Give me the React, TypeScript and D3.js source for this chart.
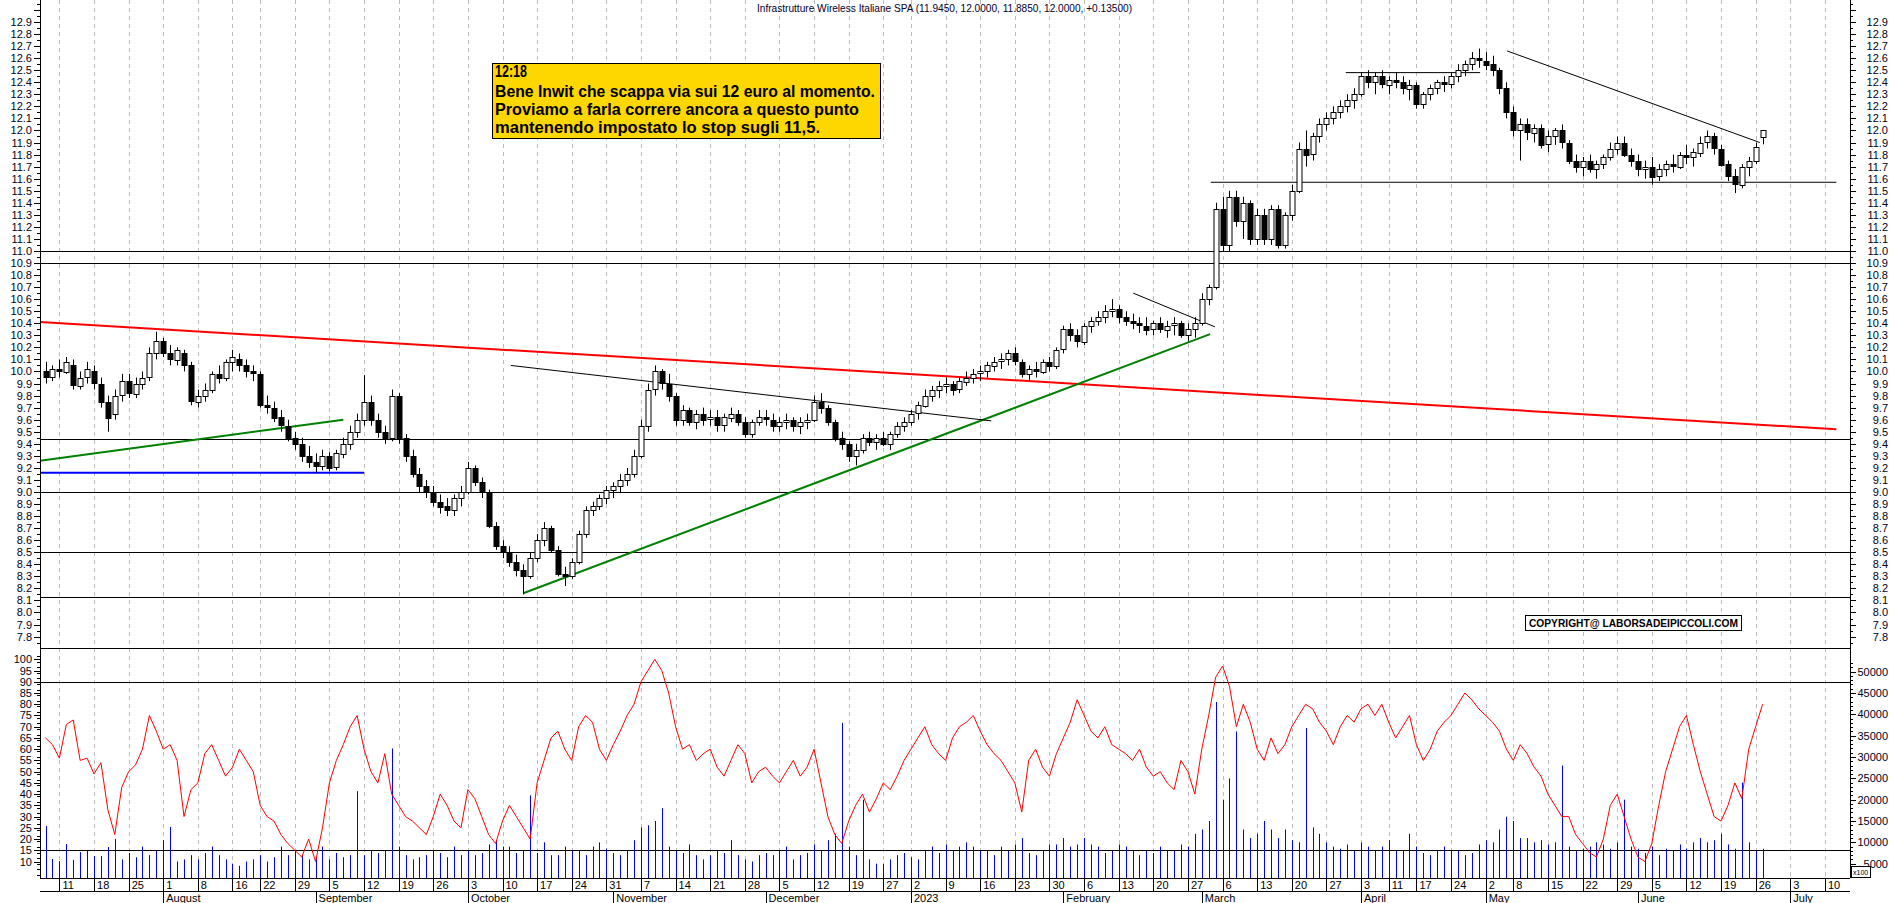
import React from "react";
import * as d3 from "d3";

type Candle = [number, number, number, number]; // open, high, low, close

// trading calendar
const firstDay = new Date(2022, 6, 7);
const axisEnd = new Date(2023, 6, 15);
const holidays = ["2022-08-15", "2022-12-26", "2023-04-07", "2023-04-10", "2023-05-01"];
const monthNames = ["2023", "February", "March", "April", "May", "June", "July", "August", "September", "October", "November", "December"];

// candles, one array per month
const jul22: Candle[] = [
  [10.0, 10.08, 9.9, 9.95], [9.95, 10.05, 9.92, 10.02], [10.02, 10.1, 9.95, 10.0], [10.0, 10.12, 9.98, 10.08],
  [10.05, 10.1, 9.85, 9.88], [9.88, 10.0, 9.85, 9.95], [9.95, 10.08, 9.9, 10.02], [10.0, 10.05, 9.85, 9.9],
  [9.9, 9.95, 9.7, 9.75], [9.75, 9.8, 9.5, 9.62], [9.65, 9.85, 9.6, 9.8], [9.8, 9.98, 9.75, 9.92],
  [9.92, 9.98, 9.78, 9.82], [9.82, 9.95, 9.78, 9.9], [9.9, 10.0, 9.85, 9.95], [9.95, 10.2, 9.92, 10.15],
  [10.15, 10.33, 10.1, 10.25],
];
const aug22: Candle[] = [
  [10.25, 10.28, 10.12, 10.15], [10.15, 10.22, 10.05, 10.1], [10.1, 10.2, 10.05, 10.18], [10.15, 10.18, 10.0, 10.05],
  [10.05, 10.08, 9.72, 9.75], [9.75, 9.85, 9.7, 9.8], [9.8, 9.9, 9.75, 9.85], [9.85, 10.0, 9.82, 9.98],
  [9.98, 10.05, 9.9, 9.95], [9.95, 10.1, 9.92, 10.08], [10.08, 10.18, 10.0, 10.12], [10.1, 10.15, 10.0, 10.05],
  [10.05, 10.1, 9.95, 10.0], [10.0, 10.05, 9.92, 9.98], [9.98, 10.0, 9.7, 9.72], [9.72, 9.8, 9.65, 9.7],
  [9.7, 9.75, 9.58, 9.62], [9.62, 9.68, 9.5, 9.55], [9.55, 9.6, 9.42, 9.45], [9.45, 9.5, 9.35, 9.4],
  [9.4, 9.45, 9.25, 9.3], [9.3, 9.38, 9.2, 9.25],
];
const sep22: Candle[] = [
  [9.25, 9.32, 9.16, 9.22], [9.22, 9.35, 9.18, 9.3], [9.3, 9.33, 9.17, 9.2], [9.2, 9.35, 9.18, 9.32],
  [9.32, 9.45, 9.28, 9.4], [9.4, 9.55, 9.35, 9.5], [9.5, 9.65, 9.45, 9.6], [9.6, 9.97, 9.55, 9.75],
  [9.75, 9.8, 9.55, 9.6], [9.6, 9.65, 9.45, 9.5], [9.5, 9.55, 9.4, 9.45], [9.45, 9.85, 9.42, 9.8],
  [9.8, 9.82, 9.4, 9.45], [9.45, 9.48, 9.25, 9.3], [9.3, 9.35, 9.12, 9.15], [9.15, 9.2, 9.0, 9.05],
  [9.05, 9.1, 8.95, 9.0], [9.0, 9.05, 8.88, 8.92], [8.92, 8.98, 8.82, 8.88], [8.88, 8.95, 8.8, 8.85],
  [8.85, 8.98, 8.8, 8.95], [8.95, 9.05, 8.88, 9.0],
];
const oct22: Candle[] = [
  [9.0, 9.25, 8.98, 9.2], [9.2, 9.22, 9.05, 9.08], [9.08, 9.12, 8.95, 9.0], [9.0, 9.02, 8.7, 8.72],
  [8.72, 8.75, 8.52, 8.55], [8.55, 8.6, 8.45, 8.5], [8.5, 8.55, 8.38, 8.42], [8.42, 8.48, 8.3, 8.35],
  [8.35, 8.4, 8.15, 8.3], [8.3, 8.5, 8.28, 8.45], [8.45, 8.65, 8.42, 8.6], [8.6, 8.75, 8.55, 8.7],
  [8.7, 8.72, 8.5, 8.52], [8.52, 8.55, 8.3, 8.32], [8.32, 8.38, 8.22, 8.3], [8.3, 8.45, 8.28, 8.42],
  [8.42, 8.68, 8.4, 8.65], [8.65, 8.88, 8.62, 8.85], [8.85, 8.92, 8.8, 8.88], [8.88, 8.98, 8.85, 8.95],
  [8.95, 9.05, 8.9, 9.02],
];
const nov22: Candle[] = [
  [9.02, 9.08, 8.95, 9.05], [9.05, 9.15, 9.0, 9.1], [9.1, 9.2, 9.05, 9.15], [9.15, 9.35, 9.12, 9.3],
  [9.3, 9.6, 9.28, 9.55], [9.55, 9.9, 9.5, 9.85], [9.85, 10.05, 9.8, 10.0], [10.0, 10.02, 9.85, 9.9],
  [9.9, 9.98, 9.75, 9.8], [9.8, 9.82, 9.55, 9.6], [9.6, 9.72, 9.55, 9.68], [9.68, 9.7, 9.55, 9.58],
  [9.58, 9.68, 9.52, 9.65], [9.65, 9.7, 9.55, 9.6], [9.6, 9.68, 9.55, 9.62], [9.62, 9.68, 9.5, 9.55],
  [9.55, 9.65, 9.5, 9.62], [9.62, 9.7, 9.58, 9.65], [9.65, 9.68, 9.55, 9.58], [9.58, 9.62, 9.45, 9.48],
  [9.48, 9.6, 9.45, 9.58], [9.58, 9.68, 9.55, 9.62],
];
const dec22: Candle[] = [
  [9.62, 9.68, 9.55, 9.6], [9.6, 9.65, 9.5, 9.55], [9.55, 9.62, 9.5, 9.58], [9.58, 9.65, 9.52, 9.6],
  [9.6, 9.62, 9.5, 9.55], [9.55, 9.62, 9.48, 9.58], [9.58, 9.65, 9.52, 9.6], [9.6, 9.8, 9.58, 9.75],
  [9.75, 9.82, 9.65, 9.7], [9.7, 9.72, 9.55, 9.58], [9.58, 9.6, 9.42, 9.45], [9.45, 9.5, 9.35, 9.4],
  [9.4, 9.42, 9.25, 9.3], [9.3, 9.4, 9.22, 9.35], [9.35, 9.48, 9.32, 9.45], [9.45, 9.5, 9.38, 9.42],
  [9.42, 9.48, 9.35, 9.45], [9.45, 9.5, 9.38, 9.4], [9.4, 9.5, 9.35, 9.48], [9.48, 9.58, 9.45, 9.55],
  [9.55, 9.62, 9.5, 9.58],
];
const jan23: Candle[] = [
  [9.58, 9.68, 9.55, 9.65], [9.65, 9.75, 9.6, 9.72], [9.72, 9.85, 9.7, 9.8], [9.8, 9.88, 9.75, 9.85],
  [9.85, 9.92, 9.78, 9.88], [9.88, 9.95, 9.82, 9.9], [9.9, 9.92, 9.8, 9.85], [9.85, 9.95, 9.82, 9.92],
  [9.92, 10.0, 9.88, 9.95], [9.95, 10.02, 9.9, 9.98], [9.98, 10.05, 9.92, 10.0], [10.0, 10.08, 9.95, 10.05],
  [10.05, 10.12, 10.0, 10.08], [10.08, 10.15, 10.02, 10.1], [10.1, 10.18, 10.05, 10.15], [10.15, 10.2, 10.05, 10.08],
  [10.08, 10.1, 9.95, 9.98], [9.98, 10.05, 9.92, 10.02], [10.02, 10.08, 9.95, 10.0], [10.0, 10.1, 9.98, 10.08],
  [10.08, 10.12, 10.0, 10.05], [10.05, 10.2, 10.02, 10.18],
];
const feb23: Candle[] = [
  [10.18, 10.38, 10.15, 10.35], [10.35, 10.4, 10.25, 10.3], [10.3, 10.35, 10.2, 10.25], [10.25, 10.4, 10.22, 10.38],
  [10.38, 10.45, 10.32, 10.42], [10.42, 10.5, 10.38, 10.45], [10.45, 10.55, 10.4, 10.5], [10.5, 10.6, 10.45, 10.52],
  [10.52, 10.55, 10.4, 10.45], [10.45, 10.5, 10.38, 10.42], [10.42, 10.48, 10.35, 10.4], [10.4, 10.45, 10.32, 10.38],
  [10.38, 10.45, 10.3, 10.35], [10.35, 10.42, 10.3, 10.4], [10.4, 10.45, 10.32, 10.35], [10.35, 10.42, 10.28, 10.38],
  [10.38, 10.45, 10.3, 10.4], [10.4, 10.42, 10.28, 10.3], [10.3, 10.4, 10.25, 10.35], [10.35, 10.45, 10.28, 10.4],
];
const mar23: Candle[] = [
  [10.4, 10.65, 10.38, 10.6], [10.6, 10.72, 10.55, 10.7], [10.7, 11.4, 10.68, 11.35], [11.35, 11.45, 11.0, 11.05],
  [11.05, 11.5, 11.0, 11.45], [11.45, 11.5, 11.2, 11.25], [11.25, 11.45, 11.1, 11.4], [11.4, 11.42, 11.05, 11.1],
  [11.1, 11.35, 11.05, 11.3], [11.3, 11.35, 11.05, 11.1], [11.1, 11.38, 11.05, 11.35], [11.35, 11.38, 11.02, 11.05],
  [11.05, 11.32, 11.02, 11.3], [11.3, 11.55, 11.25, 11.5], [11.5, 11.9, 11.48, 11.85], [11.85, 12.0, 11.7, 11.8],
  [11.8, 11.98, 11.75, 11.95], [11.95, 12.1, 11.9, 12.05], [12.05, 12.15, 12.0, 12.1], [12.1, 12.2, 12.05, 12.15],
  [12.15, 12.25, 12.1, 12.2], [12.2, 12.3, 12.15, 12.25], [12.25, 12.35, 12.18, 12.3],
];
const apr23: Candle[] = [
  [12.3, 12.48, 12.28, 12.45], [12.45, 12.5, 12.35, 12.4], [12.4, 12.48, 12.3, 12.45], [12.45, 12.5, 12.35, 12.38],
  [12.38, 12.45, 12.3, 12.42], [12.42, 12.48, 12.35, 12.4], [12.4, 12.45, 12.3, 12.35], [12.35, 12.42, 12.25, 12.38],
  [12.38, 12.4, 12.18, 12.22], [12.22, 12.32, 12.18, 12.3], [12.3, 12.38, 12.25, 12.35], [12.35, 12.42, 12.3, 12.4],
  [12.4, 12.45, 12.32, 12.38], [12.38, 12.48, 12.35, 12.45], [12.45, 12.55, 12.4, 12.5], [12.5, 12.58, 12.45, 12.55],
  [12.55, 12.65, 12.5, 12.6], [12.6, 12.68, 12.52, 12.58],
];
const may23: Candle[] = [
  [12.58, 12.65, 12.5, 12.55], [12.55, 12.62, 12.45, 12.5], [12.5, 12.52, 12.3, 12.35], [12.35, 12.4, 12.1, 12.15],
  [12.15, 12.2, 11.95, 12.0], [12.0, 12.1, 11.75, 12.05], [12.05, 12.1, 11.92, 11.98], [11.98, 12.05, 11.9, 12.02],
  [12.02, 12.05, 11.85, 11.88], [11.88, 12.0, 11.82, 11.95], [11.95, 12.02, 11.88, 12.0], [12.0, 12.05, 11.85, 11.9],
  [11.9, 11.92, 11.72, 11.75], [11.75, 11.8, 11.65, 11.7], [11.7, 11.78, 11.62, 11.75], [11.75, 11.8, 11.65, 11.68],
  [11.68, 11.75, 11.6, 11.72], [11.72, 11.8, 11.68, 11.78], [11.78, 11.9, 11.75, 11.85], [11.85, 11.95, 11.8, 11.9],
  [11.9, 11.95, 11.78, 11.8], [11.8, 11.85, 11.7, 11.75],
];
const jun23: Candle[] = [
  [11.75, 11.8, 11.62, 11.68], [11.68, 11.75, 11.6, 11.7], [11.7, 11.78, 11.55, 11.62], [11.62, 11.72, 11.58, 11.68],
  [11.68, 11.75, 11.62, 11.72], [11.72, 11.8, 11.65, 11.7], [11.7, 11.82, 11.68, 11.8], [11.8, 11.88, 11.72, 11.78],
  [11.78, 11.85, 11.7, 11.82], [11.82, 11.95, 11.78, 11.9], [11.9, 12.0, 11.85, 11.95], [11.95, 11.98, 11.8, 11.85],
  [11.85, 11.88, 11.7, 11.72], [11.72, 11.75, 11.58, 11.62], [11.62, 11.68, 11.48, 11.55], [11.55, 11.72, 11.52, 11.7],
  [11.7, 11.78, 11.62, 11.75], [11.75, 11.9, 11.72, 11.865], [11.945, 12.0, 11.885, 12.0],
];

// volume (axis units, x100)
const volJul22 = [13800, 6100, 5600, 9600, 5900, 7700, 8000, 6800, 6800, 8900, 10800, 6000, 7500, 6500, 9000, 7000, 8000];
const volAug22 = [10500, 13600, 5500, 6000, 7000, 6000, 7500, 9000, 7000, 6000, 5000, 4500, 5500, 6000, 7000, 5500, 6500, 9000, 7000, 8000, 7000, 6000];
const volSep22 = [6500, 9000, 6000, 7500, 6500, 7000, 22000, 7000, 8000, 7500, 8000, 32000, 9000, 7000, 6000, 6500, 7000, 8000, 7500, 6500, 9000, 7000];
const volOct22 = [8000, 7000, 7500, 9500, 10500, 9000, 9000, 7500, 8000, 21000, 7500, 10000, 7000, 7000, 9000, 8000, 8000, 7000, 9000, 10000, 8500];
const volNov22 = [7500, 7000, 8000, 10500, 13500, 14000, 15000, 18000, 9000, 8000, 7500, 9500, 7000, 6000, 7000, 8000, 7500, 10500, 7000, 6000, 5500, 7000];
const volDec22 = [7500, 7000, 8000, 9000, 6000, 7000, 7500, 9500, 8000, 10500, 12000, 38000, 9000, 7000, 20000, 6000, 5000, 5000, 6000, 7000, 7500];
const volJan23 = [6500, 6000, 8000, 9000, 7500, 9500, 8000, 9000, 10000, 9000, 8000, 8000, 7000, 9000, 8000, 9500, 11000, 7500, 7000, 8000, 9500, 9500];
const volFeb23 = [11000, 9000, 9500, 11000, 9500, 9000, 7500, 8000, 9500, 9000, 8000, 7000, 8000, 7500, 9000, 8000, 8000, 9500, 9000, 12000];
const volMar23 = [13000, 15000, 42900, 20000, 25000, 36000, 13000, 11000, 12000, 15000, 13000, 11000, 13000, 10500, 10000, 36800, 13500, 12000, 10000, 9000, 8500, 9500, 8000];
const volApr23 = [10000, 9000, 8000, 9000, 10500, 8000, 8000, 12000, 9000, 7500, 7000, 8000, 9000, 8000, 8000, 7000, 7500, 9500];
const volMay23 = [10500, 10000, 13000, 16000, 15000, 11000, 11000, 10000, 10500, 9500, 10000, 28000, 9000, 8000, 8500, 9000, 10000, 9500, 8500, 10000, 20000, 9000];
const volJun23 = [8500, 7500, 9000, 7000, 8500, 8000, 9500, 8500, 10000, 11000, 10000, 10500, 12000, 9500, 8500, 24000, 10000, 8000, 8500];

// oscillator (0-100)
const oscJul22 = [65, 62, 56, 71, 73, 55, 56, 49, 54, 33, 22, 43, 50, 53, 60, 75, 68];
const oscAug22 = [60, 62, 55, 30, 42, 45, 58, 62, 55, 48, 52, 60, 55, 50, 35, 30, 28, 22, 18, 15, 12, 20];
const oscSep22 = [10, 25, 45, 55, 62, 70, 75, 60, 50, 45, 58, 40, 35, 30, 28, 25, 22, 30, 40, 35, 28, 25];
const oscOct22 = [42, 38, 30, 22, 18, 28, 35, 30, 25, 20, 45, 55, 65, 68, 60, 55, 70, 75, 72, 60, 55];
const oscNov22 = [62, 68, 75, 80, 90, 95, 100, 95, 85, 70, 60, 62, 55, 58, 60, 52, 48, 55, 62, 58, 45, 50];
const oscDec22 = [52, 48, 45, 50, 55, 48, 52, 60, 45, 30, 22, 18, 28, 35, 40, 32, 38, 45, 42, 48, 55];
const oscJan23 = [60, 65, 70, 62, 58, 55, 65, 70, 72, 75, 68, 62, 58, 55, 50, 45, 32, 55, 60, 52, 48, 58];
const oscFeb23 = [65, 72, 82, 75, 68, 65, 70, 62, 60, 58, 55, 60, 52, 48, 50, 45, 42, 55, 50, 40];
const oscMar23 = [60, 75, 92, 97, 88, 70, 80, 72, 60, 55, 65, 58, 62, 70, 75, 80, 78, 72, 68, 62, 70, 75, 72];
const oscApr23 = [78, 80, 75, 80, 72, 65, 70, 75, 62, 55, 60, 68, 72, 75, 80, 85, 82, 78];
const oscMay23 = [75, 72, 68, 60, 55, 62, 58, 52, 48, 40, 35, 30, 30, 22, 18, 14, 12, 20, 35, 40, 30, 20];
const oscJun23 = [12, 10, 18, 35, 50, 60, 70, 75, 62, 50, 40, 30, 28, 35, 45, 38, 60, 70, 80];

// horizontal levels and trend lines (day index, price)
const fullLevels = [11.0, 10.9, 9.44, 9.0, 8.5, 8.13];
const trendLines = [
  { from: [-0.8, 10.41], to: [258.65, 9.52], color: "#ff0000", width: 2 },
  { from: [-0.8, 9.26], to: [43.0, 9.6], color: "#008000", width: 2 },
  { from: [-0.8, 9.16], to: [46.0, 9.16], color: "#0000ff", width: 2 },
  { from: [69.0, 8.16], to: [168.2, 10.31], color: "#008000", width: 2 },
  { from: [67.2, 10.05], to: [136.6, 9.59], color: "#000000", width: 1 },
  { from: [157.1, 10.65], to: [168.9, 10.37], color: "#000000", width: 1 },
  { from: [211.1, 12.66], to: [247.6, 11.9], color: "#000000", width: 1 },
  { from: [187.8, 12.48], to: [207.2, 12.48], color: "#000000", width: 1 },
  { from: [168.3, 11.57], to: [258.65, 11.57], color: "#000000", width: 1 },
];

const titleText = "Infrastrutture Wireless Italiane SPA (11.9450, 12.0000, 11.8850, 12.0000, +0.13500)";
const noteLines = [
  "12:18",
  "Bene Inwit che scappa via sui 12 euro al momento.",
  "Proviamo a farla correre ancora a questo punto",
  "mantenendo impostato lo stop sugli 11,5.",
];

const candles = [...jul22, ...aug22, ...sep22, ...oct22, ...nov22, ...dec22, ...jan23, ...feb23, ...mar23, ...apr23, ...may23, ...jun23];
const volumes = [...volJul22, ...volAug22, ...volSep22, ...volOct22, ...volNov22, ...volDec22, ...volJan23, ...volFeb23, ...volMar23, ...volApr23, ...volMay23, ...volJun23];
const osc = [...oscJul22, ...oscAug22, ...oscSep22, ...oscOct22, ...oscNov22, ...oscDec22, ...oscJan23, ...oscFeb23, ...oscMar23, ...oscApr23, ...oscMay23, ...oscJun23];

const W = 1890;
const H = 903;
const LEFT = 40;
const RIGHT = 1850;
const PRICE_BOTTOM = 648.5;
const LOW_BOTTOM = 878;
const FONT = "'Liberation Sans', Arial, sans-serif";

export default function App() {
  const fmt = d3.timeFormat("%Y-%m-%d");
  const days = d3.timeDay
    .range(firstDay, axisEnd)
    .filter((d) => d.getDay() !== 0 && d.getDay() !== 6 && !holidays.includes(fmt(d)));

  const x = d3.scaleLinear().domain([2, 257]).range([59.4, 1824.9]);
  const yP = d3.scaleLinear().domain([12.9, 7.8]).range([22, 636.6]);
  const yO = d3.scaleLinear().domain([100, 15]).range([659.3, 850.3]);
  const yV = d3.scaleLinear().domain([0, 50000]).range([885, 671.7]);

  const weekTicks: number[] = [];
  const monthTicks: number[] = [];
  days.forEach((d, i) => {
    if (i === 0) return;
    const prev = days[i - 1];
    if (+d3.timeMonday.floor(d) !== +d3.timeMonday.floor(prev)) weekTicks.push(i);
    if (d.getMonth() !== prev.getMonth()) monthTicks.push(i);
  });

  const oscLine = d3
    .line<number>()
    .x((_, i) => x(i))
    .y((v) => yO(v))(osc) ?? "";

  const px = (v: number) => Math.round(v) + 0.5;

  const priceTicks = d3.range(77, 131).map((v) => v / 10);
  const priceMinor = d3.range(154, 262).map((v) => v / 20);
  const oscTicks = d3.range(10, 101, 5);
  const oscMinor = d3.range(4, 103, 2.5);
  const volTicks = d3.range(5000, 50001, 5000);
  const volMinor = d3.range(2000, 52001, 1000);

  return (
    <svg width={W} height={H} style={{ display: "block", position: "absolute", left: 0, top: 0, background: "#fff" }} fontFamily={FONT}>
      <rect x={0} y={0} width={W} height={H} fill="#fff" />

      {/* weekly grid */}
      {weekTicks.map((i) => (
        <line key={"g" + i} x1={px(x(i))} x2={px(x(i))} y1={0} y2={LOW_BOTTOM} stroke="#bdbdbd" strokeDasharray="4 4" />
      ))}

      {/* title */}
      <text x={757} y={12} fontSize={11} fill="#000030" textLength={375} lengthAdjust="spacingAndGlyphs">
        {titleText}
      </text>

      {/* horizontal levels */}
      {fullLevels.map((v) => (
        <line key={"l" + v} x1={LEFT} x2={RIGHT} y1={px(yP(v))} y2={px(yP(v))} stroke="#000" />
      ))}

      {/* trend lines */}
      {trendLines.map((t, k) => (
        <line
          key={"t" + k}
          x1={x(t.from[0])}
          y1={yP(t.from[1])}
          x2={x(t.to[0])}
          y2={yP(t.to[1])}
          stroke={t.color}
          strokeWidth={t.width}
        />
      ))}

      {/* candles */}
      {candles.map(([o, h, l, c], i) => {
        const cx = px(x(i));
        const top = yP(Math.max(o, c));
        const bot = yP(Math.min(o, c));
        const up = c >= o;
        return (
          <g key={"c" + i}>
            <line x1={cx} x2={cx} y1={yP(h)} y2={yP(l)} stroke="#000" />
            <rect x={cx - 2.5} y={Math.round(top) + 0.5} width={5} height={Math.max(1, Math.round(bot - top))} fill={up ? "#fff" : "#000"} stroke="#000" />
          </g>
        );
      })}

      {/* annotation */}
      <rect x={492.5} y={63.5} width={388} height={75} fill="#ffd700" stroke="#000" />
      {noteLines.map((t, k) => (
        <text
          key={"n" + k}
          x={495}
          y={[77, 97, 115, 133][k]}
          fontSize={16}
          fontWeight="bold"
          fill="#000"
          textLength={[32, 380, 364, 325][k]}
          lengthAdjust="spacingAndGlyphs"
        >
          {t}
        </text>
      ))}

      {/* copyright */}
      <rect x={1525.5} y={615.5} width={216} height={15} fill="#fff" stroke="#000" />
      <text x={1529} y={627} fontSize={11} fontWeight="bold" textLength={209} lengthAdjust="spacingAndGlyphs">
        COPYRIGHT@ LABORSADEIPICCOLI.COM
      </text>

      {/* lower panel */}
      <line x1={LEFT} x2={RIGHT} y1={PRICE_BOTTOM} y2={PRICE_BOTTOM} stroke="#000" />
      <line x1={LEFT} x2={RIGHT} y1={px(yO(90))} y2={px(yO(90))} stroke="#000" />
      <line x1={LEFT} x2={RIGHT} y1={px(yO(15))} y2={px(yO(15))} stroke="#000" />
      {volumes.map((v, i) => (
        <line key={"v" + i} x1={px(x(i))} x2={px(x(i))} y1={LOW_BOTTOM} y2={Math.max(yV(v), 650)} stroke="#0000ff" />
      ))}
      <path d={oscLine} fill="none" stroke="#ff0000" strokeWidth={1} />

      {/* axes */}
      <line x1={px(LEFT)} x2={px(LEFT)} y1={0} y2={LOW_BOTTOM} stroke="#000" />
      <line x1={px(RIGHT)} x2={px(RIGHT)} y1={0} y2={LOW_BOTTOM} stroke="#000" />
      {priceMinor.filter((v) => yP(v) > 0 && yP(v) < PRICE_BOTTOM - 3).map((v) => (
        <g key={"pm" + v}>
          <line x1={LEFT - 3} x2={LEFT} y1={px(yP(v))} y2={px(yP(v))} stroke="#000" />
          <line x1={RIGHT} x2={RIGHT + 3} y1={px(yP(v))} y2={px(yP(v))} stroke="#000" />
        </g>
      ))}
      {priceTicks.filter((v) => yP(v) > 0 && yP(v) < PRICE_BOTTOM - 3).map((v) => (
        <g key={"pt" + v}>
          <line x1={LEFT - 6} x2={LEFT} y1={px(yP(v))} y2={px(yP(v))} stroke="#000" />
          <line x1={RIGHT} x2={RIGHT + 6} y1={px(yP(v))} y2={px(yP(v))} stroke="#000" />
          {v >= 7.8 && v <= 12.9 && (
            <>
              <text x={32} y={yP(v) + 4} fontSize={11} textAnchor="end" fill="#000020">{v.toFixed(1)}</text>
              <text x={1888} y={yP(v) + 4} fontSize={11} textAnchor="end" fill="#000020">{v.toFixed(1)}</text>
            </>
          )}
        </g>
      ))}
      {oscMinor.filter((v) => yO(v) > PRICE_BOTTOM + 2 && yO(v) < LOW_BOTTOM).map((v) => (
        <line key={"om" + v} x1={LEFT - 3} x2={LEFT} y1={px(yO(v))} y2={px(yO(v))} stroke="#000" />
      ))}
      {oscTicks.map((v) => (
        <g key={"ot" + v}>
          <line x1={LEFT - 6} x2={LEFT} y1={px(yO(v))} y2={px(yO(v))} stroke="#000" />
          <text x={32} y={yO(v) + 4} fontSize={11} textAnchor="end" fill="#000020">{v}</text>
        </g>
      ))}
      {volMinor.filter((v) => yV(v) > PRICE_BOTTOM + 2 && yV(v) < LOW_BOTTOM).map((v) => (
        <line key={"vm" + v} x1={RIGHT} x2={RIGHT + (v % 5000 === 0 ? 6 : 3)} y1={px(yV(v))} y2={px(yV(v))} stroke="#000" />
      ))}
      {volTicks.map((v) => (
        <text key={"vt" + v} x={1888} y={yV(v) + 4} fontSize={11} textAnchor="end" fill="#000020">{v}</text>
      ))}
      <rect x={1851.5} y={866.5} width={19} height={11} fill="#fff" stroke="#000" />
      <text x={1853} y={875} fontSize={7} fill="#000">x100</text>

      {/* date axis */}
      <line x1={LEFT} x2={RIGHT} y1={px(LOW_BOTTOM)} y2={px(LOW_BOTTOM)} stroke="#000" />
      <line x1={LEFT} x2={RIGHT} y1={891.5} y2={891.5} stroke="#000" />
      {weekTicks.map((i) => (
        <g key={"w" + i}>
          <line x1={px(x(i))} x2={px(x(i))} y1={LOW_BOTTOM} y2={891} stroke="#000" />
          <text x={x(i) + 3} y={889} fontSize={11} fill="#000">{days[i].getDate()}</text>
        </g>
      ))}
      {monthTicks.map((i) => (
        <g key={"m" + i}>
          <line x1={px(x(i))} x2={px(x(i))} y1={891} y2={H} stroke="#000" />
          <text x={x(i) + 3} y={902} fontSize={11} fill="#000">{monthNames[days[i].getMonth() === 0 ? 0 : days[i].getMonth()]}</text>
        </g>
      ))}
    </svg>
  );
}
